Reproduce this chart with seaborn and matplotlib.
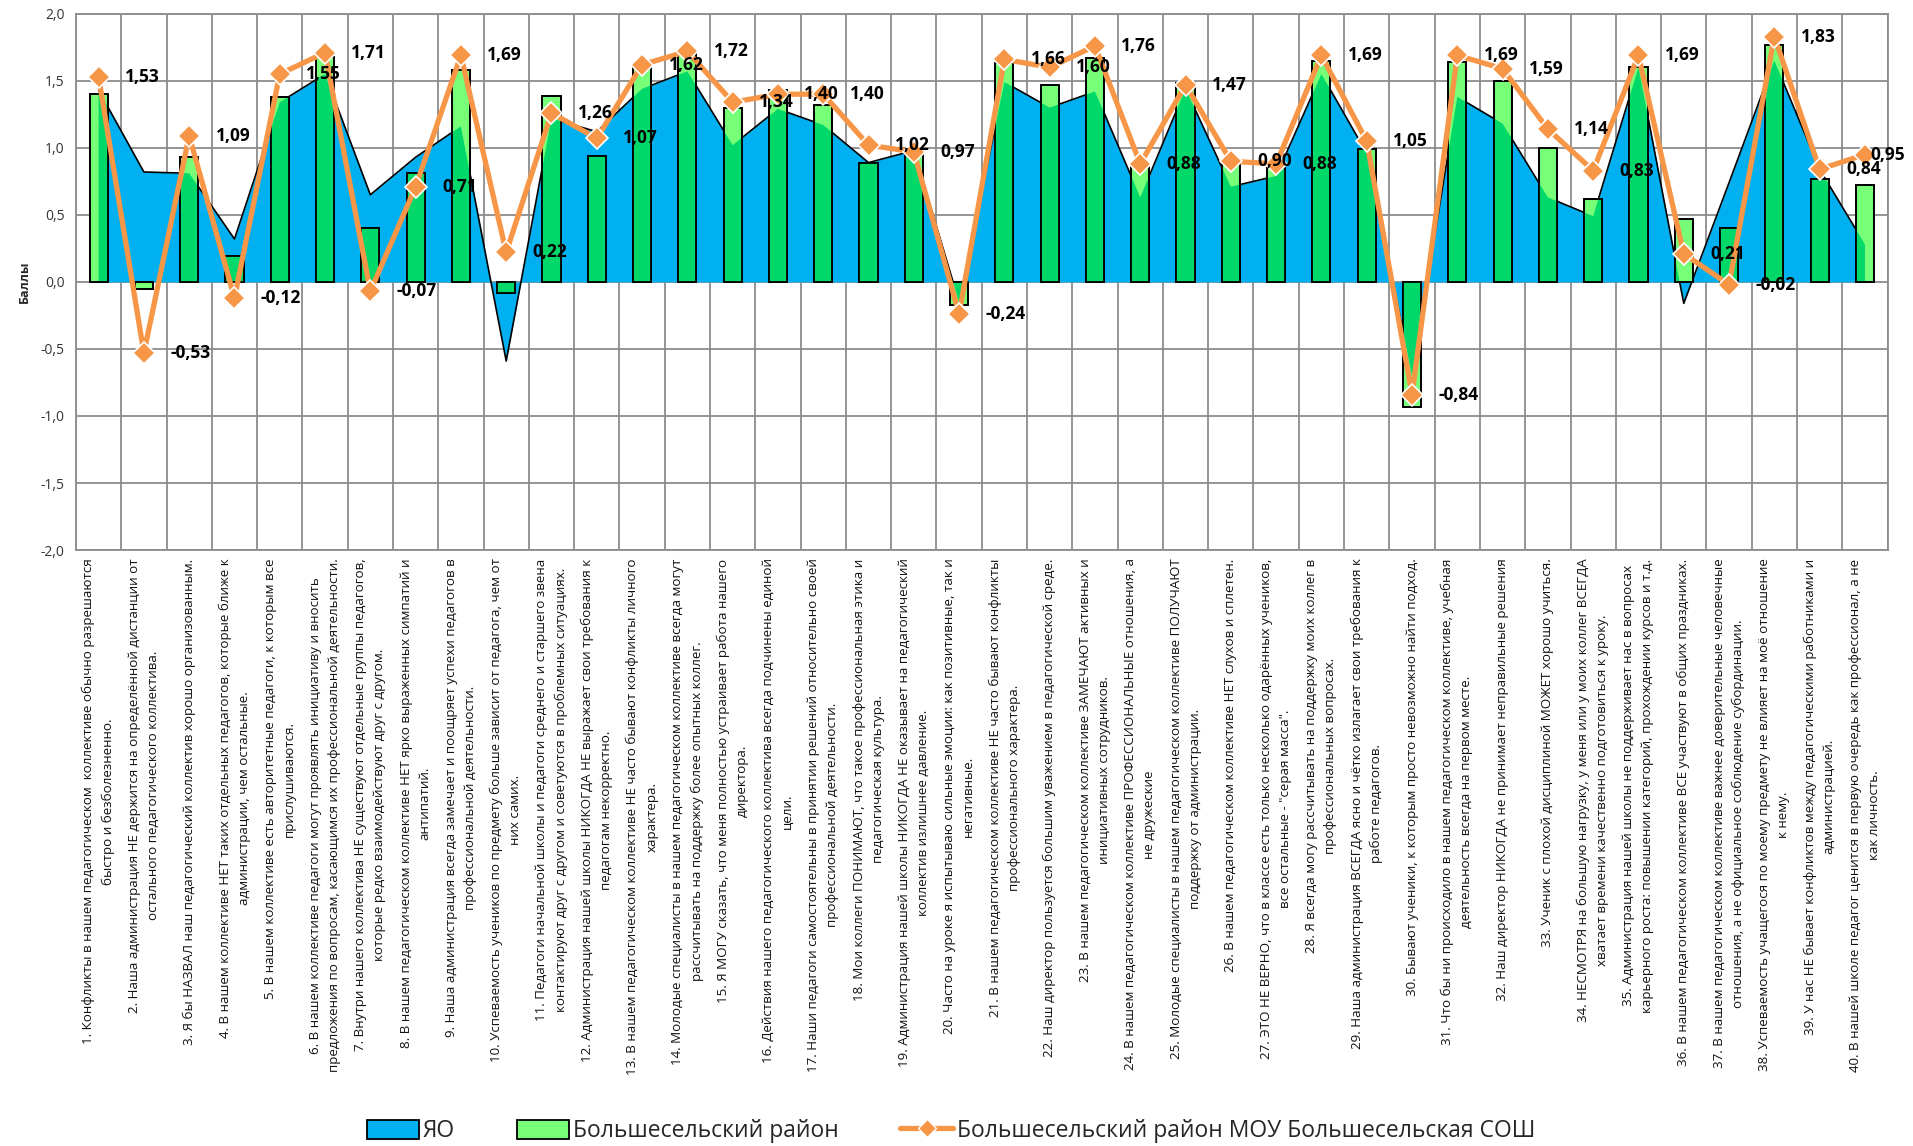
import numpy as np
import pandas as pd
import seaborn as sns
import matplotlib.pyplot as plt
from matplotlib.patches import Patch, Rectangle
from matplotlib.lines import Line2D

# Data
questions = [
    "1. Конфликты в нашем педагогическом  коллективе обычно разрешаются\nбыстро и безболезненно.",
    "2. Наша администрация НЕ держится на определённой дистанции от\nостального педагогического коллектива.",
    "3. Я бы НАЗВАЛ наш педагогический коллектив хорошо организованным.",
    "4. В нашем коллективе НЕТ таких отдельных педагогов, которые ближе к\nадминистрации, чем остальные.",
    "5. В нашем коллективе есть авторитетные педагоги, к которым все\nприслушиваются.",
    "6. В нашем коллективе педагоги могут проявлять инициативу и вносить\nпредложения по вопросам, касающимся их профессиональной деятельности.",
    "7. Внутри нашего коллектива НЕ существуют отдельные группы педагогов,\nкоторые редко взаимодействуют друг с другом.",
    "8. В нашем педагогическом коллективе НЕТ ярко выраженных симпатий и\nантипатий.",
    "9. Наша администрация всегда замечает и поощряет успехи педагогов в\nпрофессиональной деятельности.",
    "10. Успеваемость учеников по предмету больше зависит от педагога, чем от\nних самих.",
    "11. Педагоги начальной школы и педагоги среднего и старшего звена\nконтактируют друг с другом и советуются в проблемных ситуациях.",
    "12. Администрация нашей школы НИКОГДА НЕ выражает свои требования к\nпедагогам некорректно.",
    "13. В нашем педагогическом коллективе НЕ часто бывают конфликты личного\nхарактера.",
    "14. Молодые специалисты в нашем педагогическом коллективе всегда могут\nрассчитывать на поддержку более опытных коллег.",
    "15. Я МОГУ сказать, что меня полностью устраивает работа нашего\nдиректора.",
    "16. Действия нашего педагогического коллектива всегда подчинены единой\nцели.",
    "17. Наши педагоги самостоятельны в принятии решений относительно своей\nпрофессиональной деятельности.",
    "18. Мои коллеги ПОНИМАЮТ, что такое профессиональная этика и\nпедагогическая культура.",
    "19. Администрация нашей школы НИКОГДА НЕ оказывает на педагогический\nколлектив излишнее давление.",
    "20. Часто на уроке я испытываю сильные эмоции: как позитивные, так и\nнегативные.",
    "21. В нашем педагогическом коллективе НЕ часто бывают конфликты\nпрофессионального характера.",
    "22. Наш директор пользуется большим уважением в педагогической среде.",
    "23. В нашем педагогическом коллективе ЗАМЕЧАЮТ активных и\nинициативных сотрудников.",
    "24. В нашем педагогическом коллективе ПРОФЕССИОНАЛЬНЫЕ отношения, а\nне дружеские",
    "25. Молодые специалисты в нашем педагогическом коллективе ПОЛУЧАЮТ\nподдержку от администрации.",
    "26. В нашем педагогическом коллективе НЕТ слухов и сплетен.",
    "27. ЭТО НЕ ВЕРНО, что в классе есть только несколько одарённых учеников,\nвсе остальные - \"серая масса\".",
    "28. Я всегда могу рассчитывать на поддержку моих коллег в\nпрофессиональных вопросах.",
    "29. Наша администрация ВСЕГДА ясно и чётко излагает свои требования к\nработе педагогов.",
    "30. Бывают ученики, к которым просто невозможно найти подход.",
    "31. Что бы ни происходило в нашем педагогическом коллективе, учебная\nдеятельность всегда на первом месте.",
    "32. Наш директор НИКОГДА не принимает неправильные решения",
    "33. Ученик с плохой дисциплиной МОЖЕТ хорошо учиться.",
    "34. НЕСМОТРЯ на большую нагрузку, у меня или у моих коллег ВСЕГДА\nхватает времени качественно подготовиться к уроку.",
    "35. Администрация нашей школы не поддерживает нас в вопросах\nкарьерного роста: повышении категорий, прохождении курсов и т.д.",
    "36. В нашем педагогическом коллективе ВСЕ участвуют в общих праздниках.",
    "37. В нашем педагогическом коллективе важнее доверительные человечные\nотношения, а не официальное соблюдение субординации.",
    "38. Успеваемость учащегося по моему предмету не влияет на моё отношение\nк нему.",
    "39. У нас НЕ бывает конфликтов между педагогическими работниками и\nадминистрацией.",
    "40. В нашей школе педагог ценится в первую очередь как профессионал, а не\nкак личность.",
]

# ЯО (area)
yo = [1.43, 0.82, 0.81, 0.32, 1.34, 1.55, 0.65, 0.93, 1.16, -0.59,
      1.22, 1.12, 1.44, 1.57, 1.02, 1.29, 1.17, 0.89, 0.98, -0.15,
      1.49, 1.30, 1.42, 0.63, 1.44, 0.71, 0.79, 1.55, 0.96, -0.70,
      1.38, 1.18, 0.63, 0.49, 1.60, -0.16, 0.74, 1.65, 0.84, 0.28]

# Большесельский район (bars)
rayon = [1.40, -0.05, 0.93, 0.19, 1.38, 1.68, 0.40, 0.81, 1.58, -0.08,
         1.39, 0.94, 1.62, 1.70, 1.30, 1.43, 1.32, 0.89, 0.97, -0.17,
         1.63, 1.47, 1.67, 0.86, 1.48, 0.89, 0.85, 1.65, 0.99, -0.93,
         1.64, 1.50, 1.00, 0.62, 1.60, 0.47, 0.40, 1.77, 0.77, 0.72]

# Большесельский район МОУ Большесельская СОШ (line)
school = [1.53, -0.53, 1.09, -0.12, 1.55, 1.71, -0.07, 0.71, 1.69, 0.22,
          1.26, 1.07, 1.62, 1.72, 1.34, 1.40, 1.40, 1.02, 0.97, -0.24,
          1.66, 1.60, 1.76, 0.88, 1.47, 0.90, 0.88, 1.69, 1.05, -0.84,
          1.69, 1.59, 1.14, 0.83, 1.69, 0.21, -0.02, 1.83, 0.84, 0.95]

series_names = ["ЯО", "Большесельский район", "Большесельский район МОУ Большесельская СОШ"]

df = pd.DataFrame({"n": np.arange(len(questions)), "yo": yo, "rayon": rayon, "school": school})

blue = "#00B0F0"
light_green = "#77FF77"
dark_green = "#00D96A"
orange = "#F79646"

sns.set_theme(style="white")
plt.rcParams['font.family'] = ['Open Sans', 'DejaVu Sans']

fig = plt.figure(figsize=(19.13, 11.46), dpi=100)
ax = fig.add_axes([0.0397, 0.520, 0.947, 0.468])

# area for ЯО
area = ax.fill_between(df["n"], df["yo"], 0, color=blue, lw=0, zorder=1)
ax.plot(df["n"], df["yo"], color="black", lw=1.2, zorder=1.5)
clip = area.get_paths()[0]

# bars
sns.barplot(data=df, x="n", y="rayon", color=light_green, saturation=1, width=0.4,
            edgecolor="black", linewidth=1.3, errorbar=None, zorder=2, ax=ax)

# where bars overlap the area they look darker
for bar in list(ax.patches):
    r = Rectangle(bar.get_xy(), bar.get_width(), bar.get_height(),
                  facecolor=dark_green, lw=0, zorder=2.1)
    ax.add_patch(r)
    r.set_clip_path(clip, ax.transData)
    e = Rectangle(bar.get_xy(), bar.get_width(), bar.get_height(),
                  facecolor="none", edgecolor="black", lw=1.3, zorder=2.2)
    ax.add_patch(e)

# line with diamonds
sns.lineplot(data=df, x="n", y="school", color=orange, lw=3.8, marker="D",
             markersize=11, markerfacecolor=orange, markeredgecolor="white",
             markeredgewidth=1.2, zorder=3, ax=ax)

for i, v in enumerate(school):
    dx = 19 if i < len(school) - 1 else 4
    ax.annotate(f"{v:.2f}".replace(".", ","), (i, v), xytext=(dx, 0),
                textcoords="offset points", ha="left", va="center",
                fontsize=12.5, fontweight="bold", color="black", zorder=5,
                annotation_clip=False)

# axes
ax.set_xlim(-0.5, len(questions) - 0.5)
ax.set_ylim(-2, 2)
yt = np.arange(-2, 2.01, 0.5)
ax.set_yticks(yt)
ax.set_yticklabels([f"{t:.1f}".replace(".", ",") for t in yt], fontsize=10, color="#333333")
ax.set_xticks(df["n"])
ax.set_xticklabels(questions, rotation=90, fontsize=9.6, ha="center", va="top",
                   multialignment="center", linespacing=1.6, color="#111111")
ax.set_xticks(np.arange(-0.5, len(questions), 1), minor=True)
ax.tick_params(axis="x", which="both", length=0, pad=6)
ax.tick_params(axis="y", length=5, color="#8c8c8c", pad=3)
ax.set_axisbelow(True)
ax.grid(axis="y", which="major", color="#8c8c8c", lw=1.3)
ax.grid(axis="x", which="minor", color="#8c8c8c", lw=1.3)
for s in ax.spines.values():
    s.set_color("#8c8c8c")
    s.set_linewidth(1.3)
ax.set_xlabel("")
ax.set_ylabel("Баллы", fontsize=9, fontweight="bold", labelpad=7)

handles = [
    Patch(facecolor=blue, edgecolor="black", lw=1.3),
    Patch(facecolor=light_green, edgecolor="black", lw=1.3),
    Line2D([0], [0], color=orange, lw=3.8, marker="D", markersize=9,
           markerfacecolor=orange, markeredgecolor="white"),
]
fig.legend(handles, series_names, loc="center", bbox_to_anchor=(0.497, 0.013),
           ncol=3, frameon=False, fontsize=16.5, handlelength=2.3, handleheight=0.9,
           handletextpad=0.15, columnspacing=2.7)

fig.savefig("out.png", dpi=100)
